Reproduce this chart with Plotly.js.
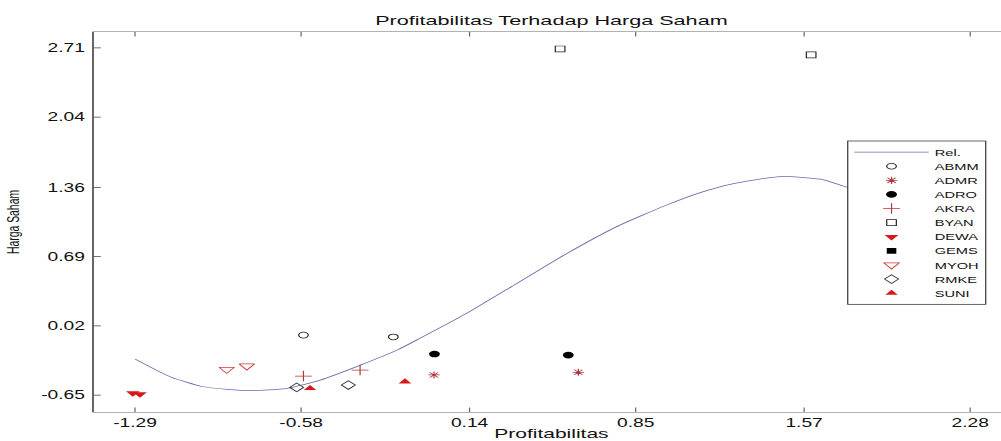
<!DOCTYPE html>
<html><head><meta charset="utf-8">
<script src="https://cdn.plot.ly/plotly-3.0.1.min.js"></script>
<style>
html,body{margin:0;padding:0;overflow:hidden;background:#fff;width:1001px;height:441px;}
#chart{width:845px;height:594px;transform:scale(1.2,0.7424);transform-origin:0 0;}
</style></head><body><div id="chart"></div>
<script>
// Fitted relationship curve
const relX = [-1.29,-1.14,-0.998,-0.798,-0.641,-0.498,-0.326,-0.169,-0.072,0.128,0.342,0.556,0.769,0.983,1.126,1.254,1.468,1.639,1.753,1.80];
const relY = [-0.302,-0.473,-0.570,-0.608,-0.585,-0.505,-0.360,-0.214,-0.101,0.141,0.430,0.720,0.980,1.190,1.310,1.390,1.465,1.439,1.361,1.31];

// Company observations: Profitabilitas (x), Harga Saham (y)
const abmmX = [-0.57,-0.186],  abmmY = [-0.07,-0.088];
const admrX = [-0.012,0.605],  admrY = [-0.456,-0.430];
const adroX = [-0.01,0.562],   adroY = [-0.253,-0.263];
const akraX = [-0.57,-0.328],  akraY = [-0.466,-0.408];
const byanX = [0.527,1.600],   byanY = [2.700,2.642];
const dewaX = [-1.299,-1.269], dewaY = [-0.631,-0.641];
const gemsX = [null],          gemsY = [null];
const myohX = [-0.898,-0.812], myohY = [-0.402,-0.369];
const rmkeX = [-0.599,-0.378], rmkeY = [-0.576,-0.553];
const suniX = [-0.542,-0.136], suniY = [-0.585,-0.521];

const xTicks = [-1.29,-0.58,0.14,0.85,1.57,2.28];
const yTicks = [-0.65,0.02,0.69,1.36,2.04,2.71];

const FONT = "Liberation Sans, Arial, sans-serif";
const RED = "#d81818", BROWN = "#b03838";

function pts(name, x, y, marker){
  return {type:"scatter", mode:"markers", name:name, x:x, y:y, marker:marker, cliponaxis:true};
}
const traces = [
  {type:"scatter", mode:"lines", name:"Rel.", x:relX, y:relY,
   line:{color:"#6a6ca8", width:1, shape:"spline", smoothing:0.6}},
  pts("ABMM", abmmX, abmmY, {symbol:"circle-open", size:8, color:"#222", line:{width:1}}),
  pts("ADMR", admrX, admrY, {symbol:"asterisk-open", size:8, color:BROWN, line:{width:1, color:BROWN}}),
  pts("ADRO", adroX, adroY, {symbol:"circle", size:9, color:"#000"}),
  pts("AKRA", akraX, akraY, {symbol:"cross-thin-open", size:10, color:BROWN, line:{width:1, color:BROWN}}),
  pts("BYAN", byanX, byanY, {symbol:"square-open", size:8, color:"#222", line:{width:1}}),
  pts("DEWA", dewaX, dewaY, {symbol:"triangle-down", size:10, color:RED}),
  pts("GEMS", gemsX, gemsY, {symbol:"square", size:8, color:"#000"}),
  pts("MYOH", myohX, myohY, {symbol:"triangle-down-open", size:11, color:"#d03a3a", line:{width:1}}),
  pts("RMKE", rmkeX, rmkeY, {symbol:"diamond-open", size:9, color:"#333", line:{width:1}}),
  pts("SUNI", suniX, suniY, {symbol:"triangle-up", size:9, color:RED})
];

const layout = {
  width:845, height:594,
  margin:{l:78, r:4, t:43, b:39, autoexpand:false},
  paper_bgcolor:"#fff", plot_bgcolor:"#fff",
  font:{family:FONT, color:"#111"},
  showlegend:true,
  title:{text:"Profitabilitas Terhadap Harga Saham", font:{size:18, color:"#111"},
         x:0.5, xref:"paper", y:1-27/594, yref:"container", yanchor:"middle"},
  xaxis:{range:[-1.467,2.4466], tickmode:"array", tickvals:xTicks, ticktext:xTicks.map(v=>v.toFixed(2)),
         ticks:"inside", ticklen:6, tickcolor:"#666", showgrid:false, zeroline:false,
         showline:true, linecolor:"#999", linewidth:1, mirror:"ticks", automargin:false,
         tickfont:{size:16, color:"#111"},
         title:{text:"Profitabilitas", font:{size:17.5, color:"#111"}, standoff:0}},
  yaxis:{range:[-0.8146,2.865], tickmode:"array", tickvals:yTicks, ticktext:yTicks.map(v=>v.toFixed(2)),
         ticks:"inside", ticklen:6, tickcolor:"#444", showgrid:false, zeroline:false,
         showline:true, linecolor:"#000", linewidth:1, mirror:"ticks", automargin:false,
         tickfont:{size:16, color:"#111"}, ticklabelstandoff:3,
         title:{text:"Harga Saham", font:{size:14, color:"#111"}, standoff:14}},
  legend:{x:0.823, y:0.714, xanchor:"left", yanchor:"top", bgcolor:"#fff",
          bordercolor:"#333", borderwidth:1, font:{size:12.2, color:"#111"},
          itemwidth:62, tracegroupgap:0, entrywidth:200, entrywidthmode:"pixels"}
};

Plotly.newPlot("chart", traces, layout, {staticPlot:true, displayModeBar:false});
</script></body></html>
